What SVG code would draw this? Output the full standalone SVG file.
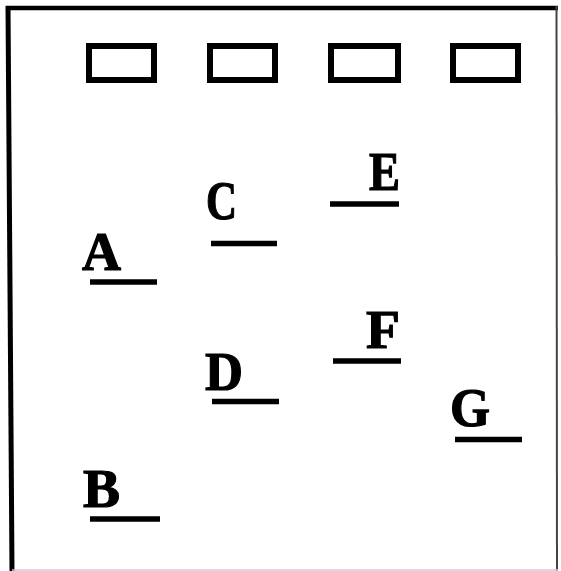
<svg xmlns="http://www.w3.org/2000/svg" width="561" height="571" viewBox="0 0 561 571">
<style>
.well{fill:none;stroke:#000;stroke-width:6}
.band{stroke:#000;stroke-width:5.5;stroke-linecap:butt}
.lbl{font-family:"Liberation Serif","Times New Roman",serif;font-weight:bold;font-size:54px;fill:#000;stroke:#000;stroke-width:1.2}
</style>
<rect width="561" height="571" fill="#fff"/>
<g id="frame">
<line x1="8" y1="6" x2="12" y2="571" stroke="#000" stroke-width="5"/>
<line x1="6" y1="8" x2="558" y2="8" stroke="#000" stroke-width="4.5"/>
<line x1="556.5" y1="6" x2="557" y2="571" stroke="#444" stroke-width="2"/>
<line x1="12" y1="570" x2="558" y2="570" stroke="#ccc" stroke-width="1.5"/>
</g>
<g id="wells">
<rect id="well1" class="well" x="89" y="46" width="65" height="34"/>
<rect id="well2" class="well" x="210" y="46" width="65" height="34"/>
<rect id="well3" class="well" x="331" y="46" width="67" height="34"/>
<rect id="well4" class="well" x="453" y="46" width="65" height="34"/>
</g>
<g id="A"><text class="lbl" x="82" y="270" textLength="39" lengthAdjust="spacingAndGlyphs">A</text><line class="band" x1="90" y1="282" x2="157" y2="282"/></g>
<g id="B"><text class="lbl" x="83" y="507" textLength="37" lengthAdjust="spacingAndGlyphs">B</text><line class="band" x1="90" y1="519" x2="160" y2="519"/></g>
<g id="C"><text class="lbl" x="206" y="219" textLength="31" lengthAdjust="spacingAndGlyphs">C</text><line class="band" x1="211" y1="243.5" x2="277" y2="243.5"/></g>
<g id="D"><text class="lbl" x="205" y="390" textLength="38" lengthAdjust="spacingAndGlyphs">D</text><line class="band" x1="212" y1="401.5" x2="279" y2="401.5"/></g>
<g id="E"><text class="lbl" x="369" y="190" textLength="31" lengthAdjust="spacingAndGlyphs">E</text><line class="band" x1="330" y1="204" x2="399" y2="204"/></g>
<g id="F"><text class="lbl" x="366" y="348" textLength="34" lengthAdjust="spacingAndGlyphs">F</text><line class="band" x1="333" y1="361" x2="401" y2="361"/></g>
<g id="G"><text class="lbl" x="450" y="426" textLength="40" lengthAdjust="spacingAndGlyphs">G</text><line class="band" x1="455" y1="439.5" x2="522" y2="439.5"/></g>
</svg>
